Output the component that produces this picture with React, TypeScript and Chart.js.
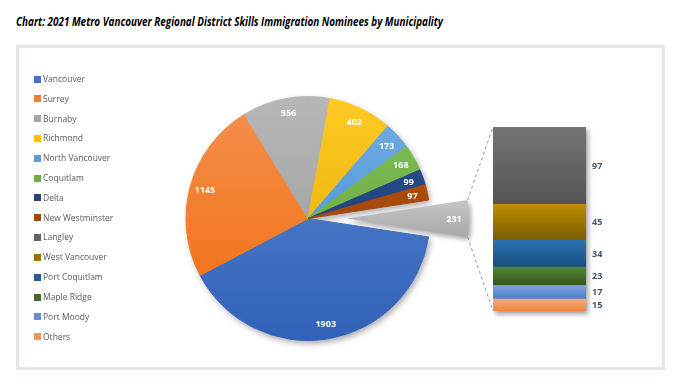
import React, { useEffect, useLayoutEffect, useRef } from "react";
import { Chart, registerables } from "chart.js";

Chart.register(...registerables);

const TITLE =
  "Chart: 2021 Metro Vancouver Regional District Skills Immigration Nominees by Municipality";

const pieLabels = [
  "Vancouver",
  "Surrey",
  "Burnaby",
  "Richmond",
  "North Vancouver",
  "Coquitlam",
  "Delta",
  "New Westminster",
  "Other",
];
const pieValues = [1903, 1145, 556, 402, 173, 168, 99, 97, 231];
const pieColors = [
  "#4472C4",
  "#ED7D31",
  "#A5A5A5",
  "#FFC000",
  "#5B9BD5",
  "#70AD47",
  "#264478",
  "#9E480E",
  "#B7B7B7",
];

const barLabels = [
  "Langley",
  "West Vancouver",
  "Port Coquitlam",
  "Maple Ridge",
  "Port Moody",
  "Others",
];
const barValues = [97, 45, 34, 23, 17, 15];
const barColors = ["#636363", "#997300", "#255E91", "#43682B", "#698ED0", "#F1975A"];

const legendLabels = [...pieLabels.slice(0, 8), ...barLabels];
const legendColors = [...pieColors.slice(0, 8), ...barColors];

const OTHER_INDEX = 8;
const EXPLODE = 39;
const PIE_RADIUS = 122;
const BAR_LEFT = 493;
const BAR_TOP = 127;
const FONT = '"Open Sans", "DejaVu Sans", sans-serif';

function hexToRgb(hex: string): number[] {
  const h = hex.replace("#", "");
  return [0, 2, 4].map((i) => parseInt(h.slice(i, i + 2), 16));
}
function rgbToHsl(r: number, g: number, b: number): number[] {
  r /= 255; g /= 255; b /= 255;
  const max = Math.max(r, g, b), min = Math.min(r, g, b);
  let h = 0, s = 0;
  const l = (max + min) / 2;
  if (max !== min) {
    const d = max - min;
    s = l > 0.5 ? d / (2 - max - min) : d / (max + min);
    if (max === r) h = (g - b) / d + (g < b ? 6 : 0);
    else if (max === g) h = (b - r) / d + 2;
    else h = (r - g) / d + 4;
    h /= 6;
  }
  return [h, s, l];
}
function hue2rgb(p: number, q: number, t: number): number {
  if (t < 0) t += 1;
  if (t > 1) t -= 1;
  if (t < 1 / 6) return p + (q - p) * 6 * t;
  if (t < 1 / 2) return q;
  if (t < 2 / 3) return p + (q - p) * (2 / 3 - t) * 6;
  return p;
}
function adjust(hex: string, ds: number, dl: number): string {
  const [r0, g0, b0] = hexToRgb(hex);
  let [h, s, l] = rgbToHsl(r0, g0, b0);
  if (s > 0) s = Math.min(1, Math.max(0, s + ds));
  l = Math.min(1, Math.max(0, l + dl));
  let r, g, b;
  if (s === 0) {
    r = g = b = l;
  } else {
    const q = l < 0.5 ? l * (1 + s) : l + s - l * s;
    const p = 2 * l - q;
    r = hue2rgb(p, q, h + 1 / 3);
    g = hue2rgb(p, q, h);
    b = hue2rgb(p, q, h - 1 / 3);
  }
  return `rgb(${Math.round(r * 255)},${Math.round(g * 255)},${Math.round(b * 255)})`;
}
const topShade = (hex: string) => adjust(hex, 0.04, 0.07);
const bottomShade = (hex: string) => adjust(hex, 0.06, -0.06);

export default function App() {
  const pieRef = useRef<HTMLCanvasElement | null>(null);
  const barRef = useRef<HTMLCanvasElement | null>(null);
  const titleRef = useRef<HTMLSpanElement | null>(null);

  useLayoutEffect(() => {
    const el = titleRef.current;
    if (!el) return;
    el.style.transform = "none";
    const w = el.getBoundingClientRect().width;
    if (w > 0) el.style.transform = `scaleX(${427 / w})`;
  }, []);

  useEffect(() => {
    if (!pieRef.current || !barRef.current) return;
    const barTotal = barValues.reduce((a, b) => a + b, 0);
    const pieTotal = pieValues.reduce((a, b) => a + b, 0);

    // ---------- bar (breakdown of "Other") ----------
    const barPlugin = {
      id: "barExtras",
      beforeDatasetsDraw(chart: any) {
        const { ctx, chartArea: a } = chart;
        ctx.save();
        ctx.shadowColor = "rgba(0,0,0,0.4)";
        ctx.shadowBlur = 5;
        ctx.shadowOffsetX = 2;
        ctx.shadowOffsetY = 3;
        ctx.fillStyle = "#ffffff";
        ctx.fillRect(a.left, a.top, a.right - a.left, a.bottom - a.top);
        ctx.restore();
      },
      afterDatasetsDraw(chart: any) {
        const { ctx, chartArea: a } = chart;
        ctx.save();
        ctx.font = `bold 9px ${FONT}`;
        ctx.fillStyle = "#44546A";
        ctx.textAlign = "left";
        ctx.textBaseline = "middle";
        chart.data.datasets.forEach((ds: any, di: number) => {
          const meta = chart.getDatasetMeta(di);
          const el = meta.data[0];
          if (!el) return;
          const y = (el.y + el.base) / 2;
          ctx.fillText(String(ds.data[0]), a.right + 6, y + 0.5);
        });
        ctx.restore();
      },
    };

    const barDatasets = barLabels
      .map((label, k) => {
        const lower = barValues.slice(k + 1).reduce((a, b) => a + b, 0);
        const upper = lower + barValues[k];
        return {
          label,
          data: [barValues[k]],
          stack: "s",
          borderWidth: 0,
          barPercentage: 1,
          categoryPercentage: 1,
          backgroundColor: (c: any) => {
            const ch = c.chart;
            const ys = ch.scales && ch.scales.y;
            if (!ch.chartArea || !ys) return barColors[k];
            const top = ys.getPixelForValue(upper);
            const bot = ys.getPixelForValue(lower);
            const g = ch.ctx.createLinearGradient(0, top, 0, bot);
            g.addColorStop(0, topShade(barColors[k]));
            g.addColorStop(1, bottomShade(barColors[k]));
            return g;
          },
        };
      })
      .reverse();

    const barChart = new Chart(barRef.current, {
      type: "bar",
      data: { labels: [""], datasets: barDatasets as any },
      options: {
        animation: false,
        responsive: false,
        events: [],
        layout: { padding: { left: 0, top: 0, right: 42, bottom: 8 } },
        scales: {
          x: { display: false, stacked: true },
          y: { display: false, stacked: true, min: 0, max: barTotal },
        },
        plugins: { legend: { display: false }, tooltip: { enabled: false } },
      },
      plugins: [barPlugin],
    });

    // ---------- pie ----------
    const sliceFill = (c: any) => {
      const i = c.dataIndex;
      if (i === OTHER_INDEX) return "rgba(0,0,0,0)";
      const ch = c.chart;
      const a = ch.chartArea;
      if (!a || i === undefined) return pieColors[i] || "#999";
      const cy = (a.top + a.bottom) / 2;
      const g = ch.ctx.createLinearGradient(0, cy - PIE_RADIUS, 0, cy + PIE_RADIUS);
      g.addColorStop(0, topShade(pieColors[i]));
      g.addColorStop(1, bottomShade(pieColors[i]));
      return g;
    };

    const piePlugin = {
      id: "pieExtras",
      beforeDatasetsDraw(chart: any) {
        const meta = chart.getDatasetMeta(0);
        const a0 = meta.data[0];
        const last = meta.data[OTHER_INDEX - 1];
        if (!a0) return;
        const { ctx } = chart;
        ctx.save();
        ctx.shadowColor = "rgba(0,0,0,0.35)";
        ctx.shadowBlur = 6;
        ctx.shadowOffsetX = 2;
        ctx.shadowOffsetY = 3;
        ctx.beginPath();
        ctx.moveTo(a0.x, a0.y);
        ctx.arc(a0.x, a0.y, a0.outerRadius, a0.startAngle, last.endAngle);
        ctx.closePath();
        ctx.fillStyle = "#ffffff";
        ctx.fill();
        ctx.restore();
      },
      afterDatasetsDraw(chart: any) {
        const { ctx } = chart;
        const meta = chart.getDatasetMeta(0);
        const arc = meta.data[OTHER_INDEX];
        if (!arc) return;
        const r = arc.outerRadius;
        const mid = (arc.startAngle + arc.endAngle) / 2;
        const ox = arc.x + Math.cos(mid) * EXPLODE;
        const oy = arc.y + Math.sin(mid) * EXPLODE;

        // exploded "Other" slice
        const p1x = ox + r * Math.cos(arc.startAngle);
        const p1y = oy + r * Math.sin(arc.startAngle);
        const p2x = ox + r * Math.cos(arc.endAngle);
        const p2y = oy + r * Math.sin(arc.endAngle);
        ctx.save();
        ctx.shadowColor = "rgba(0,0,0,0.35)";
        ctx.shadowBlur = 5;
        ctx.shadowOffsetX = 2;
        ctx.shadowOffsetY = 3;
        const g = ctx.createLinearGradient(0, p1y, 0, p2y);
        g.addColorStop(0, adjust(pieColors[OTHER_INDEX], 0, 0.06));
        g.addColorStop(1, adjust(pieColors[OTHER_INDEX], 0, -0.06));
        ctx.fillStyle = g;
        ctx.beginPath();
        ctx.moveTo(ox, oy);
        ctx.arc(ox, oy, r, arc.startAngle, arc.endAngle);
        ctx.closePath();
        ctx.fill();
        ctx.restore();

        // value labels
        ctx.save();
        ctx.font = `bold 9px ${FONT}`;
        ctx.fillStyle = "#ffffff";
        ctx.textAlign = "center";
        ctx.textBaseline = "middle";
        const lr = r * 0.877;
        meta.data.forEach((el: any, i: number) => {
          const m = (el.startAngle + el.endAngle) / 2;
          const cx = i === OTHER_INDEX ? ox : el.x;
          const cy = i === OTHER_INDEX ? oy : el.y;
          ctx.fillText(
            String(pieValues[i]),
            cx + Math.cos(m) * lr,
            cy + Math.sin(m) * lr + 0.5
          );
        });
        ctx.restore();

        // connector lines to the bar
        const bc: any = barChart;
        if (bc && bc.chartArea) {
          const ba = bc.chartArea;
          const left = BAR_LEFT + ba.left;
          const top = BAR_TOP + ba.top;
          const bottom = BAR_TOP + ba.bottom;
          ctx.save();
          ctx.strokeStyle = "#8497B0";
          ctx.lineWidth = 1;
          ctx.setLineDash([3, 3]);
          ctx.beginPath();
          ctx.moveTo(p1x, p1y);
          ctx.lineTo(left, top);
          ctx.moveTo(p2x, p2y);
          ctx.lineTo(left, bottom);
          ctx.stroke();
          ctx.restore();
        }
      },
      afterDraw(chart: any) {
        const { ctx } = chart;
        ctx.save();
        ctx.font = `8.5px ${FONT}`;
        ctx.textAlign = "left";
        ctx.textBaseline = "middle";
        legendLabels.forEach((label, i) => {
          const y = 79 + i * 19.82;
          ctx.fillStyle = legendColors[i];
          ctx.fillRect(34, Math.round(y - 3.5), 7, 7);
          ctx.fillStyle = "#595959";
          ctx.fillText(label, 43, y + 0.5);
        });
        ctx.restore();
      },
    };

    const pieChart = new Chart(pieRef.current, {
      type: "pie",
      data: {
        labels: pieLabels,
        datasets: [
          {
            data: pieValues,
            borderWidth: 1,
            backgroundColor: sliceFill,
            borderColor: sliceFill,
          } as any,
        ],
      },
      options: {
        animation: false,
        responsive: false,
        events: [],
        rotation: 90 + ((pieValues[OTHER_INDEX] / pieTotal) * 360) / 2,
        radius: PIE_RADIUS,
        layout: { padding: { left: 150, right: 215, top: 80, bottom: 32 } },
        plugins: { legend: { display: false }, tooltip: { enabled: false } },
      } as any,
      plugins: [piePlugin],
    });

    return () => {
      pieChart.destroy();
      barChart.destroy();
    };
  }, []);

  return (
    <div
      style={{
        position: "absolute",
        left: 0,
        top: 0,
        width: 681,
        height: 389,
        background: "#ffffff",
        overflow: "hidden",
      }}
    >
      <div
        style={{
          position: "absolute",
          left: 16,
          top: 12,
          height: 18,
          lineHeight: "18px",
          whiteSpace: "nowrap",
        }}
      >
        <span
          ref={titleRef}
          style={{
            display: "inline-block",
            fontFamily: FONT,
            fontStyle: "italic",
            fontWeight: 700,
            fontSize: 13,
            color: "#000000",
            transformOrigin: "left center",
          }}
        >
          {TITLE}
        </span>
      </div>
      <div
        style={{
          position: "absolute",
          left: 16,
          top: 45,
          width: 649,
          height: 325,
          boxSizing: "border-box",
          border: "3px solid #E3E7ED",
          background: "#ffffff",
        }}
      />
      <canvas
        ref={pieRef}
        width={681}
        height={389}
        style={{ position: "absolute", left: 0, top: 0, width: 681, height: 389 }}
      />
      <canvas
        ref={barRef}
        width={135}
        height={192}
        style={{ position: "absolute", left: BAR_LEFT, top: BAR_TOP, width: 135, height: 192 }}
      />
    </div>
  );
}
